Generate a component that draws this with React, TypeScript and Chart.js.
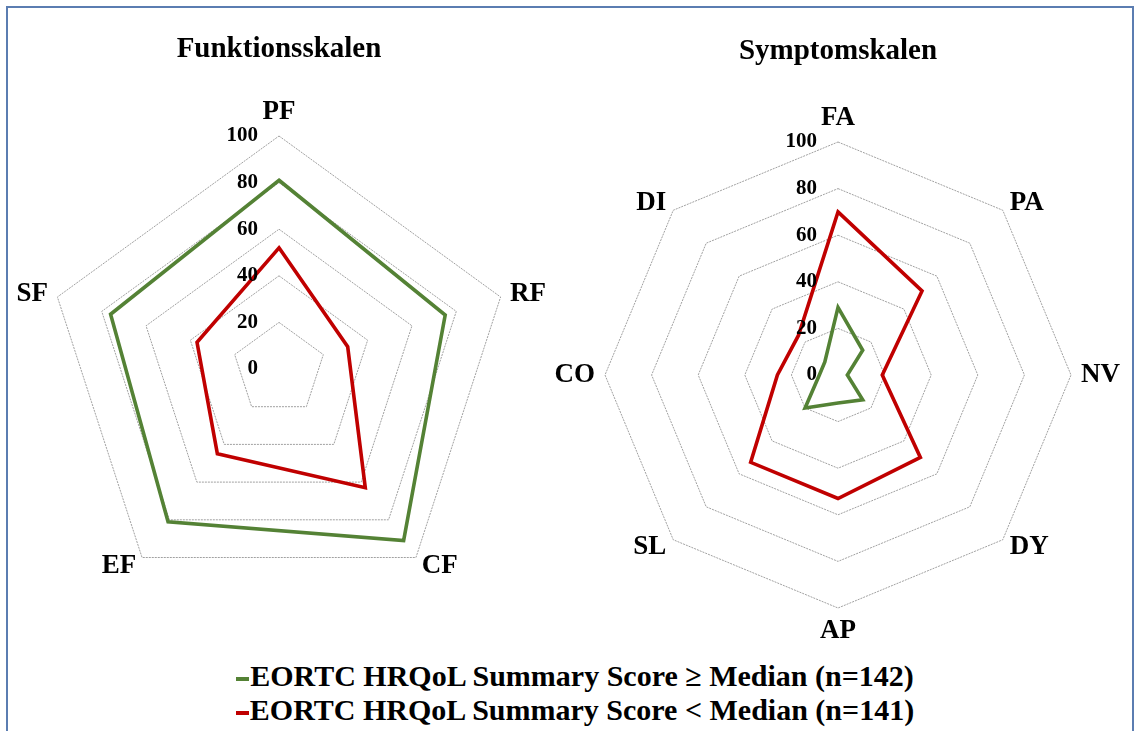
import React, { useEffect, useRef } from 'react';
import { Chart, registerables } from 'chart.js';

Chart.register(...registerables);

const funcLabels = ['PF', 'RF', 'CF', 'EF', 'SF'];
const funcHigh = [81, 75, 91, 81, 76];
const funcLow = [52, 31, 63, 45, 37];

const sympLabels = ['FA', 'PA', 'NV', 'DY', 'AP', 'SL', 'CO', 'DI'];
const sympHigh = [29, 15, 4, 15, 12, 20, 8, 8];
const sympLow = [70, 51, 19, 50, 53, 53, 26, 24];

const tickLabels = ['0', '20', '40', '60', '80', '100'];
const seriesNames = [
  'EORTC HRQoL Summary Score ≥ Median (n=142)',
  'EORTC HRQoL Summary Score < Median (n=141)',
];
const chartTitles = ['Funktionsskalen', 'Symptomskalen'];

const GREEN = '#548235';
const RED = '#c00000';
const FONT = '"Liberation Serif", "Times New Roman", serif';

const radarText = {
  id: 'radarText',
  afterDraw(chart: any) {
    const s = chart.scales.r;
    const ctx = chart.ctx;
    const labels = chart.data.labels as string[];
    ctx.save();
    ctx.fillStyle = '#000';
    ctx.font = `bold 27px ${FONT}`;
    for (let i = 0; i < labels.length; i++) {
      const p = s.getPointPosition(i, s.drawingArea + 10);
      const dx = p.x - s.xCenter;
      const dy = p.y - s.yCenter;
      const vertical = Math.abs(dx) < 1;
      ctx.textAlign = vertical ? 'center' : dx > 0 ? 'left' : 'right';
      ctx.textBaseline = vertical ? (dy < 0 ? 'bottom' : 'top') : 'middle';
      ctx.fillText(labels[i], p.x, p.y);
    }
    ctx.font = `bold 21px ${FONT}`;
    ctx.textAlign = 'right';
    ctx.textBaseline = 'middle';
    s.ticks.forEach((t: any, i: number) => {
      const d = s.getDistanceFromCenterForValue(t.value);
      ctx.fillText(tickLabels[i] ?? String(t.value), s.xCenter - 21, s.yCenter - d);
    });
    ctx.restore();
  },
};

function makeConfig(labels: string[], high: number[], low: number[], title: string, pad: any, titlePad: any) {
  return {
    type: 'radar',
    data: {
      labels,
      datasets: [
        { label: seriesNames[0], data: high, borderColor: GREEN, backgroundColor: GREEN },
        { label: seriesNames[1], data: low, borderColor: RED, backgroundColor: RED },
      ],
    },
    options: {
      responsive: false,
      animation: false,
      layout: { padding: pad },
      elements: {
        line: { borderWidth: 3.6, tension: 0, fill: false, borderJoinStyle: 'miter' },
        point: { radius: 0, hoverRadius: 0 },
      },
      plugins: {
        legend: { display: false },
        tooltip: { enabled: false },
        title: {
          display: true,
          text: title,
          color: '#000',
          font: { family: FONT, size: 29, weight: 'bold', lineHeight: 1.2 },
          padding: titlePad,
        },
      },
      scales: {
        r: {
          min: 0,
          max: 100,
          ticks: { display: false, stepSize: 20 },
          pointLabels: { display: false },
          angleLines: { display: false },
          grid: { color: '#a0a0a0', lineWidth: 1 },
          border: { dash: [2, 1] },
        },
      },
    },
    plugins: [radarText],
  } as any;
}

function RadarCanvas(props: { cfg: any; left: number; width: number; height: number }) {
  const ref = useRef<HTMLCanvasElement>(null);
  useEffect(() => {
    const chart = new Chart(ref.current as HTMLCanvasElement, props.cfg);
    return () => chart.destroy();
  }, []);
  return (
    <canvas
      ref={ref}
      width={props.width}
      height={props.height}
      style={{ position: 'absolute', left: props.left, top: 0, width: props.width, height: props.height }}
    />
  );
}

const leftCfg = makeConfig(funcLabels, funcHigh, funcLow, chartTitles[0], { left: 46, right: 36, top: 0, bottom: 38 }, { top: 32.6, bottom: 68.6 });
const rightCfg = makeConfig(sympLabels, sympHigh, sympLow, chartTitles[1], { left: 57, right: 67, top: 0, bottom: 32 }, { top: 34.6, bottom: 72.6 });

function LegendLine(props: { color: string; text: string; top: number }) {
  return (
    <div
      style={{
        position: 'absolute',
        left: 0,
        width: 1150,
        top: props.top,
        height: 34,
        lineHeight: '34px',
        textAlign: 'center',
        fontFamily: FONT,
        fontWeight: 'bold',
        fontSize: 30,
        color: '#000',
        whiteSpace: 'nowrap',
      }}
    >
      <span
        style={{
          display: 'inline-block',
          width: 13,
          height: 4,
          background: props.color,
          verticalAlign: 'middle',
          marginRight: 1,
          position: 'relative',
          top: 0,
        }}
      />
      {props.text}
    </div>
  );
}

export default function App() {
  return (
    <div style={{ position: 'fixed', left: 0, top: 0, width: 1138, height: 731, overflow: 'hidden', background: '#fff' }}>
      <div
        style={{
          position: 'absolute',
          left: 6,
          top: 6,
          width: 1128,
          height: 800,
          border: '2px solid #5b7db1',
          boxSizing: 'border-box',
        }}
      />
      <RadarCanvas cfg={leftCfg} left={0} width={548} height={640} />
      <RadarCanvas cfg={rightCfg} left={548} width={590} height={640} />
      <LegendLine color={GREEN} text={seriesNames[0]} top={659} />
      <LegendLine color={RED} text={seriesNames[1]} top={693} />
    </div>
  );
}
